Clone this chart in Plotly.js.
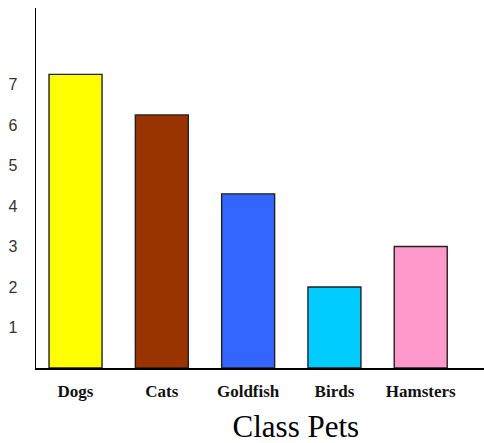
<!DOCTYPE html>
<html>
<head>
<meta charset="utf-8">
<script src="https://cdn.plot.ly/plotly-3.0.1.min.js"></script>
<style>
html,body{margin:0;padding:0;background:#fff;}
#chart{width:484px;height:443px;}
</style>
</head>
<body>
<div id="chart"></div>
<script>
var categories = ["Dogs", "Cats", "Goldfish", "Birds", "Hamsters"];
var petCounts = [7.25, 6.25, 4.3, 2, 3];
var barColors = ["#FFFF00", "#993300", "#3366FF", "#00CCFF", "#FF99CC"];
var yTickValues = [1, 2, 3, 4, 5, 6, 7];
var chartTitle = "Class Pets";

var trace = {
  type: "bar",
  x: categories,
  y: petCounts,
  width: 0.614,
  marker: {color: barColors, line: {color: "#222222", width: 1.4}},
  hoverinfo: "x+y"
};

var layout = {
  width: 484,
  height: 443,
  margin: {l: 36, r: 0, t: 8, b: 75, pad: 0},
  paper_bgcolor: "#ffffff",
  plot_bgcolor: "#ffffff",
  showlegend: false,
  title: {
    text: chartTitle,
    font: {family: "Liberation Serif, Times New Roman, serif", size: 31, color: "#000000"},
    xref: "paper", x: 0.58, xanchor: "center",
    yref: "container", y: 0.037, yanchor: "middle"
  },
  xaxis: {
    type: "category",
    range: [-0.458, 4.733],
    showline: true, linecolor: "#000000", linewidth: 1.5,
    showgrid: false, zeroline: false, ticks: "",
    ticklabelstandoff: 7,
    tickfont: {family: "Liberation Serif, Times New Roman, serif", size: 17, color: "#111111", weight: "bold"},
    fixedrange: true
  },
  yaxis: {
    range: [0, 8.89],
    tickvals: yTickValues,
    ticktext: yTickValues.map(String),
    showline: true, linecolor: "#000000", linewidth: 1.5,
    showgrid: false, zeroline: false, ticks: "",
    ticklabelstandoff: 14,
    tickfont: {family: "Liberation Sans, Arial, sans-serif", size: 16, color: "#333333"},
    fixedrange: true
  }
};

Plotly.newPlot("chart", [trace], layout, {displayModeBar: false, staticPlot: true});
</script>
</body>
</html>
